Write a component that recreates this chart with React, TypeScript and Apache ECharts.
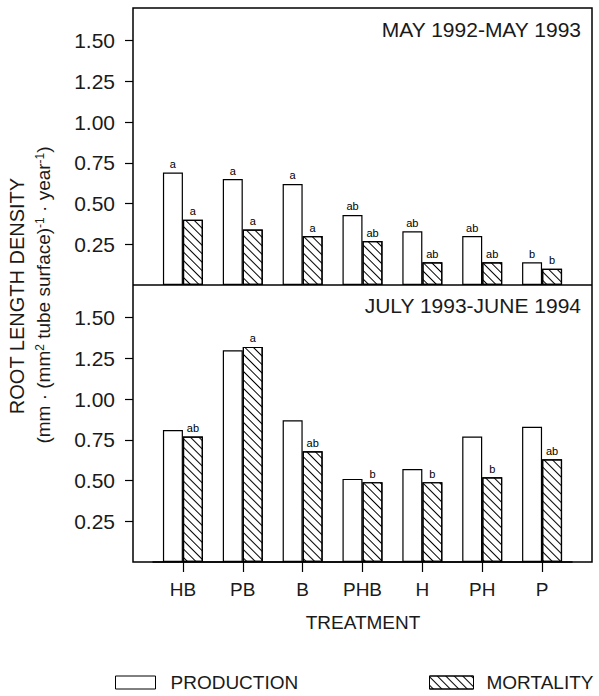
import React, { useEffect, useRef } from "react";
import * as echarts from "echarts";

const categories = ["HB", "PB", "B", "PHB", "H", "PH", "P"];
const upperProduction = [0.69, 0.65, 0.62, 0.43, 0.33, 0.3, 0.14];
const upperMortality = [0.4, 0.34, 0.3, 0.27, 0.14, 0.14, 0.1];
const upperProductionLetters = ["a", "a", "a", "ab", "ab", "ab", "b"];
const upperMortalityLetters = ["a", "a", "a", "ab", "ab", "ab", "b"];
const lowerProduction = [0.81, 1.3, 0.87, 0.51, 0.57, 0.77, 0.83];
const lowerMortality = [0.77, 1.32, 0.68, 0.49, 0.49, 0.52, 0.63];
const lowerMortalityLetters = ["ab", "a", "ab", "b", "b", "b", "ab"];
const yTicks = [0.25, 0.5, 0.75, 1.0, 1.25, 1.5];
const upperTitle = "MAY 1992-MAY 1993";
const lowerTitle = "JULY 1993-JUNE 1994";

const FONT = "Liberation Sans, Arial, Helvetica, sans-serif";
const INK = "#1a1a1a";

export default function App() {
  const ref = useRef<HTMLDivElement>(null);
  useEffect(() => {
    if (!ref.current) return;
    const chart = echarts.init(ref.current, null, { renderer: "svg" });
    const hatch = {
      symbol: "rect",
      symbolSize: 1,
      dashArrayX: [1, 0],
      dashArrayY: [1, 4.2],
      rotation: Math.PI / 4,
      color: "#000",
      backgroundColor: "#fff",
    };
    const prodStyle = { color: "#fff", borderColor: "#000", borderWidth: 1.2 };
    const mortStyle = { color: "#fff", borderColor: "#000", borderWidth: 1.2, decal: hatch };
    const yAxisBase = (gridIndex: number) => ({
      type: "value",
      gridIndex,
      min: 0,
      max: 1.7,
      interval: 0.25,
      offset: 20,
      axisLine: { show: false },
      splitLine: { show: false },
      axisTick: { show: true, length: 8, customValues: yTicks, lineStyle: { color: "#000", width: 1.2 } },
      axisLabel: {
        customValues: yTicks,
        formatter: (v: number) => v.toFixed(2),
        fontSize: 21,
        fontFamily: FONT,
        color: INK,
        margin: 18,
      },
    });
    const label = (letters: string[]) => ({
      show: true,
      position: "top",
      distance: 3,
      fontSize: 11,
      fontFamily: FONT,
      color: "#000",
      textBorderWidth: 0,
      formatter: (p: any) => letters[p.dataIndex],
    });
    chart.setOption({
      animation: false,
      grid: [
        { left: 153, width: 419, top: 8, height: 277 },
        { left: 153, width: 419, top: 285, height: 277 },
      ],
      xAxis: [
        {
          type: "category",
          gridIndex: 0,
          data: categories,
          axisLine: { show: false },
          axisTick: { show: false },
          axisLabel: { show: false },
        },
        {
          type: "category",
          gridIndex: 1,
          data: categories,
          axisLine: { show: true, lineStyle: { color: "#000", width: 1.5 } },
          axisTick: { show: true, alignWithLabel: true, length: 10, lineStyle: { color: "#000", width: 1.2 } },
          axisLabel: { fontSize: 19, fontFamily: FONT, color: INK, margin: 18 },
        },
      ],
      yAxis: [yAxisBase(0), yAxisBase(1)],
      legend: [
        {
          data: ["PRODUCTION"],
          left: 115,
          top: 673,
          padding: 0,
          icon: "rect",
          itemWidth: 40,
          itemHeight: 13,
          itemStyle: { borderColor: "#000", borderWidth: 1 },
          textStyle: { fontSize: 19, fontFamily: FONT, color: INK, padding: [0, 0, 0, 10] },
        },
        {
          data: ["MORTALITY"],
          left: 429,
          top: 673,
          padding: 0,
          icon: "rect",
          itemWidth: 44,
          itemHeight: 13,
          itemStyle: { borderColor: "#000", borderWidth: 1 },
          textStyle: { fontSize: 19, fontFamily: FONT, color: INK, padding: [0, 0, 0, 8] },
        },
      ],
      series: [
        {
          name: "PRODUCTION",
          type: "bar",
          xAxisIndex: 0,
          yAxisIndex: 0,
          data: upperProduction,
          barWidth: 20,
          barGap: "0%",
          itemStyle: prodStyle,
          label: label(upperProductionLetters),
        },
        {
          name: "MORTALITY",
          type: "bar",
          xAxisIndex: 0,
          yAxisIndex: 0,
          data: upperMortality,
          barWidth: 20,
          barGap: "0%",
          itemStyle: mortStyle,
          label: label(upperMortalityLetters),
        },
        {
          name: "PRODUCTION",
          type: "bar",
          xAxisIndex: 1,
          yAxisIndex: 1,
          data: lowerProduction,
          barWidth: 20,
          barGap: "0%",
          itemStyle: prodStyle,
        },
        {
          name: "MORTALITY",
          type: "bar",
          xAxisIndex: 1,
          yAxisIndex: 1,
          data: lowerMortality,
          barWidth: 20,
          barGap: "0%",
          itemStyle: mortStyle,
          label: label(lowerMortalityLetters),
        },
      ],
      graphic: [
        {
          type: "rect",
          shape: { x: 133, y: 8, width: 459, height: 554 },
          style: { fill: "none", stroke: "#000", lineWidth: 1.5 },
          silent: true,
          z: 10,
        },
        {
          type: "line",
          shape: { x1: 133, y1: 285, x2: 592, y2: 285 },
          style: { stroke: "#000", lineWidth: 1.5 },
          silent: true,
          z: 10,
        },
        {
          type: "text",
          x: 581,
          y: 29,
          style: { text: upperTitle, fontSize: 21, fontFamily: FONT, fill: INK, align: "right", verticalAlign: "middle" },
        },
        {
          type: "text",
          x: 581,
          y: 305,
          style: { text: lowerTitle, fontSize: 21, fontFamily: FONT, fill: INK, align: "right", verticalAlign: "middle" },
        },
        {
          type: "text",
          x: 363,
          y: 622,
          style: { text: "TREATMENT", fontSize: 19, fontFamily: FONT, fill: INK, align: "center", verticalAlign: "middle" },
        },
        {
          type: "text",
          x: 17,
          y: 296,
          rotation: Math.PI / 2,
          style: { text: "ROOT LENGTH DENSITY", fontSize: 20, fontFamily: FONT, fill: INK, align: "center", verticalAlign: "middle" },
        },
        {
          type: "text",
          x: 43,
          y: 295,
          rotation: Math.PI / 2,
          style: {
            text: "(mm · (mm{s|2} tube surface){s|-1} · year{s|-1})",
            fontSize: 19,
            fontFamily: FONT,
            fill: INK,
            align: "center",
            verticalAlign: "middle",
            rich: {
              s: { fontSize: 12, fontFamily: FONT, fill: INK, verticalAlign: "top", lineHeight: 12 },
            },
          },
        },
      ],
    });
    return () => chart.dispose();
  }, []);
  return (
    <div
      ref={ref}
      style={{ position: "absolute", left: 0, top: 0, width: 599, height: 696 }}
    />
  );
}
